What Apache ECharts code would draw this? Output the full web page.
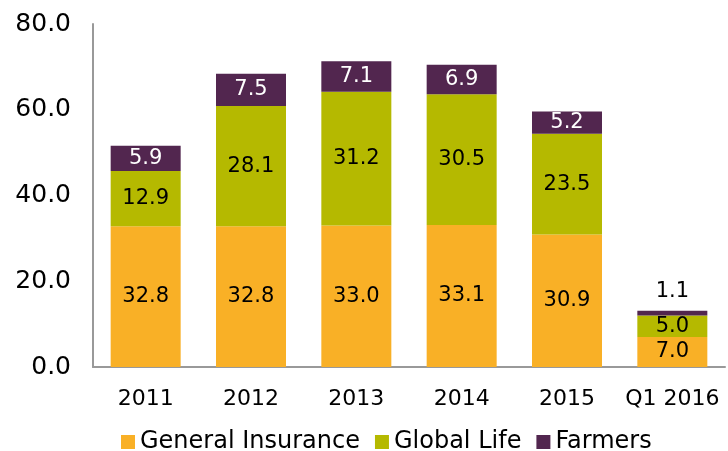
<!DOCTYPE html>
<html>
<head>
<meta charset="utf-8">
<script src="https://cdn.jsdelivr.net/npm/echarts@6/dist/echarts.min.js"></script>
<style>
  html, body { margin: 0; padding: 0; background: #fff; }
  #chart { width: 728px; height: 451px; }
</style>
</head>
<body>
<div id="chart"></div>
<script>
const categories = ['2011', '2012', '2013', '2014', '2015', 'Q1 2016']
const generalInsurance = [32.8, 32.8, 33.0, 33.1, 30.9, 7.0]
const globalLife = [12.9, 28.1, 31.2, 30.5, 23.5, 5.0]
const farmers = [5.9, 7.5, 7.1, 6.9, 5.2, 1.1]

const font = 'DejaVu Sans, Verdana, sans-serif'
const colors = ['#F9B026', '#B5B900', '#52264F']

const myChart = echarts.init(document.getElementById('chart'))

const labelStyle = {
  show: true,
  position: 'inside',
  color: '#000',
  fontSize: 21,
  fontFamily: font,
  formatter: (p) => p.value.toFixed(1)
}

const option = {
  animation: false,
  grid: { left: 93, right: 3, top: 24, bottom: 84 },
  legend: {
    left: 116,
    top: 425,
    itemWidth: 14,
    itemHeight: 14,
    itemGap: 15,
    icon: 'rect',
    textStyle: { color: '#000', fontSize: 24, fontFamily: font, padding: [0, 0, 0, 0] },
    data: ['General Insurance', 'Global Life', 'Farmers']
  },
  xAxis: {
    type: 'category',
    data: categories,
    axisLine: { show: true, lineStyle: { color: '#999', width: 2 } },
    axisTick: { show: false },
    axisLabel: { color: '#000', fontSize: 22, fontFamily: font, margin: 21, interval: 0 }
  },
  yAxis: {
    type: 'value',
    min: 0,
    max: 80,
    interval: 20,
    axisLine: { show: true, lineStyle: { color: '#999', width: 2 } },
    axisTick: { show: false },
    splitLine: { show: false },
    axisLabel: {
      color: '#000',
      fontSize: 25,
      fontFamily: font,
      margin: 22,
      formatter: (v) => v.toFixed(1)
    }
  },
  series: [
    {
      name: 'General Insurance',
      type: 'bar',
      stack: 'total',
      barWidth: 70,
      data: generalInsurance,
      itemStyle: { color: colors[0] },
      label: labelStyle
    },
    {
      name: 'Global Life',
      type: 'bar',
      stack: 'total',
      barWidth: 70,
      data: globalLife,
      itemStyle: { color: colors[1] },
      label: labelStyle
    },
    {
      name: 'Farmers',
      type: 'bar',
      stack: 'total',
      barWidth: 70,
      data: farmers.map((v, i) => {
        if (i === farmers.length - 1) {
          return { value: v, label: { position: 'top', color: '#000', distance: 9 } }
        }
        return v
      }),
      itemStyle: { color: colors[2] },
      label: Object.assign({}, labelStyle, { color: '#fff' })
    }
  ]
}
myChart.setOption(option)
</script>
</body>
</html>
